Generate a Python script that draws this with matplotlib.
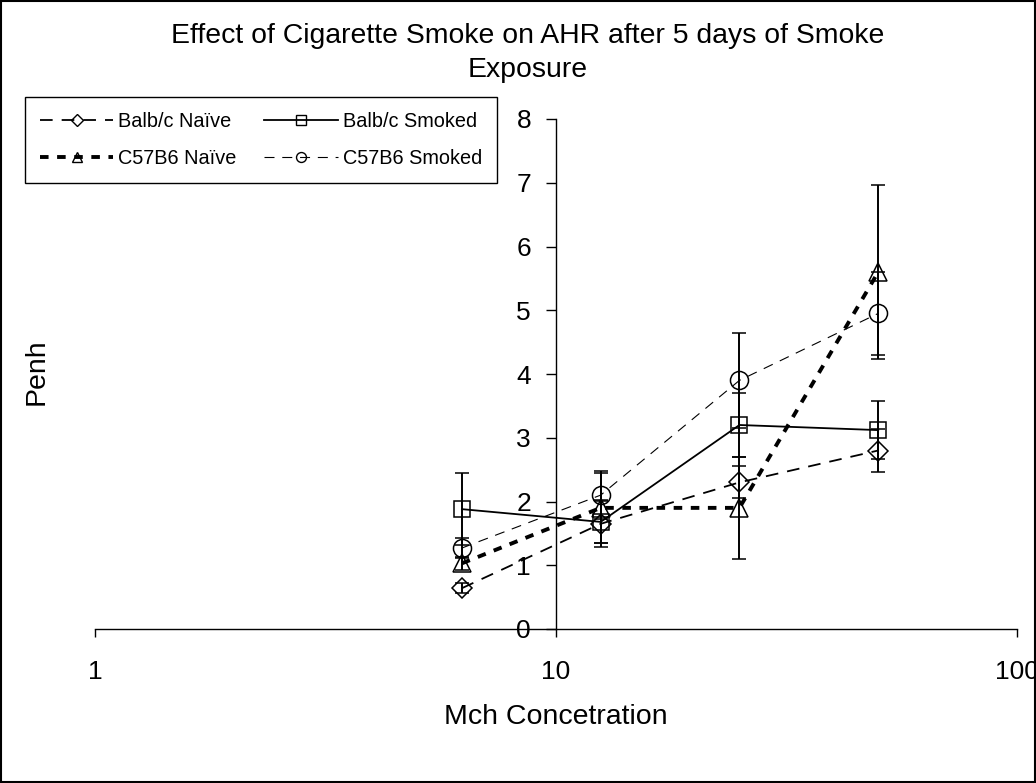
import matplotlib
matplotlib.use("Agg")
import matplotlib.pyplot as plt
from matplotlib.patches import Rectangle
from matplotlib.lines import Line2D

plt.rcParams['font.family'] = ['Liberation Sans', 'DejaVu Sans']

conc = [6.25, 12.5, 25, 50]
balb_naive = [0.64, 1.65, 2.30, 2.80]
balb_naive_err = [0.08, 0.37, 0.25, 0.33]
balb_smoked = [1.88, 1.68, 3.20, 3.12]
balb_smoked_err = [0.57, 0.33, 0.50, 0.45]
c57_naive = [1.03, 1.90, 1.90, 5.60]
c57_naive_err = [0.10, 0.55, 0.80, 1.37]
c57_smoked = [1.27, 2.10, 3.90, 4.95]
c57_smoked_err = [0.15, 0.38, 0.75, 0.65]

labels = ["Balb/c Naïve", "Balb/c Smoked", "C57B6 Naïve", "C57B6 Smoked"]
title_lines = ["Effect of Cigarette Smoke on AHR after 5 days of Smoke", "Exposure"]
xticks = [1, 10, 100]
yticks = [0, 1, 2, 3, 4, 5, 6, 7, 8]

W, H = 1036, 783
fig = plt.figure(figsize=(W/100, H/100), dpi=100)
ax = fig.add_axes([95/W, 1-629/H, (1017-95)/W, (629-119)/H])

styles = [
    dict(marker='D', markersize=10.5, linestyle=(0, (7, 5)), linewidth=1.3),
    dict(marker='s', markersize=12, linestyle='-', linewidth=1.3),
    dict(marker='^', markersize=12.5, linestyle=(0, (2.2, 2.2)), linewidth=2.8),
    dict(marker='o', markersize=13, linestyle=(0, (9, 7)), linewidth=0.8),
]
series = [(balb_naive, balb_naive_err), (balb_smoked, balb_smoked_err),
          (c57_naive, c57_naive_err), (c57_smoked, c57_smoked_err)]

common = dict(color='black', ecolor='black', capsize=5, elinewidth=1.4,
              capthick=1.4, markerfacecolor='none', markeredgecolor='black',
              markeredgewidth=1.1)

for (vals, errs), st, lab in zip(series, styles, labels):
    ax.errorbar(conc, vals, yerr=errs, label=lab, **st, **common)

ax.set_xscale('log')
ax.set_xlim(1, 100)
ax.set_ylim(0, 8)
ax.set_xticks(xticks)
ax.set_xticklabels([str(v) for v in xticks])
ax.xaxis.set_minor_locator(matplotlib.ticker.NullLocator())
ax.set_yticks(yticks)
ax.set_yticklabels([str(v) for v in yticks])

ax.spines['top'].set_visible(False)
ax.spines['right'].set_visible(False)
ax.spines['left'].set_position(('data', 10))
ax.spines['bottom'].set_position(('data', 0))
for s in ('left', 'bottom'):
    ax.spines[s].set_linewidth(1.0)
ax.tick_params(axis='y', direction='out', length=7, width=1.0, pad=11, labelsize=19)
ax.tick_params(axis='x', direction='out', length=6, width=1.0, pad=16, labelsize=19)
ax.patch.set_alpha(0)

fig.text(528/W, 1-43/H, title_lines[0], ha='center', va='baseline', fontsize=20.4)
fig.text(528/W, 1-77/H, title_lines[1], ha='center', va='baseline', fontsize=20.4)
fig.text(37/W, 1-372/H, "Penh", rotation=90, ha='center', va='center', fontsize=20.5)
fig.text(556/W, 1-717/H, "Mch Concetration", ha='center', va='center', fontsize=20.5)

proxies = [Line2D([], [], color='black', markerfacecolor='none', markeredgecolor='black',
                  markeredgewidth=1.0, **{**st, 'markersize': st['markersize']*0.55})
           for st in styles]
order = [0, 2, 1, 3]
leg = fig.legend([proxies[i] for i in order], [labels[i] for i in order],
                 ncol=2, loc='lower left',
                 bbox_to_anchor=(25/W, 1-183/H, 472/W, 85/H),
                 mode='expand', bbox_transform=fig.transFigure, borderaxespad=0,
                 fontsize=14.3, frameon=True, fancybox=False, framealpha=1,
                 edgecolor='black', handlelength=3.7,
                 borderpad=0.75, labelspacing=0.9, columnspacing=2.0,
                 handletextpad=0.25)
leg.get_frame().set_linewidth(1.0)

fig.patches.append(Rectangle((0.001, 0.001), 0.998, 0.998, transform=fig.transFigure,
                             fill=False, edgecolor='black', linewidth=1.5))

fig.savefig('out.png', dpi=100)
